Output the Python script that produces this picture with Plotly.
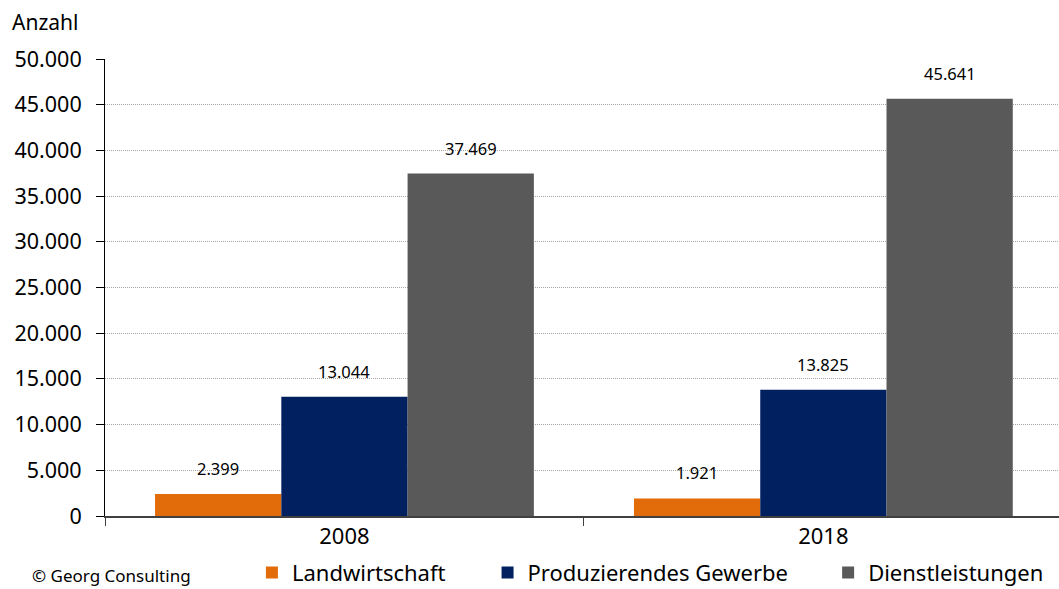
import plotly.graph_objects as go

# Beschäftigte nach Wirtschaftssektoren
years = ["2008", "2018"]
sectors = ["Landwirtschaft", "Produzierendes Gewerbe", "Dienstleistungen"]
landwirtschaft = [2399, 1921]
produzierendes = [13044, 13825]
dienstleistungen = [37469, 45641]
y_ticks = [0, 5000, 10000, 15000, 20000, 25000, 30000, 35000, 40000, 45000, 50000]
y_tick_labels = ["0", "5.000", "10.000", "15.000", "20.000", "25.000",
                 "30.000", "35.000", "40.000", "45.000", "50.000"]

colors = ["#E36C0A", "#002060", "#595959"]
series = [landwirtschaft, produzierendes, dienstleistungen]
FONT = "Noto Sans"


def de_format(v):
    return f"{v:,}".replace(",", ".")


fig = go.Figure()
legend_names = ["legend", "legend2", "legend3"]
for name, vals, col, lg in zip(sectors, series, colors, legend_names):
    fig.add_trace(go.Bar(
        x=years, y=vals, name=name, marker_color=col, marker_line_width=0,
        legend=lg, showlegend=True,
    ))

# Werte über den Balken
n = len(sectors)
for i, vals in enumerate(series):
    for j, v in enumerate(vals):
        fig.add_annotation(
            x=j, y=v, xref="x", yref="y", text=de_format(v), showarrow=False,
            xshift=(i - (n - 1) / 2) * 126.3, yshift=12, yanchor="bottom",
            font=dict(family=FONT, size=16.5, color="#000000"),
        )

fig.add_annotation(x=-0.1, y=1.0, xref="paper", yref="paper", yshift=37,
                   text="Anzahl", showarrow=False, xanchor="left", yanchor="middle",
                   font=dict(family=FONT, size=21, color="#000000"))
fig.add_annotation(x=-0.079, y=0, xref="paper", yref="paper", yshift=-59,
                   text="© Georg Consulting", showarrow=False, xanchor="left",
                   yanchor="middle", font=dict(family=FONT, size=17, color="#000000"))

legend_x = [0.154, 0.401, 0.758]
legend_style = dict(orientation="h", yanchor="middle", y=-0.124, xanchor="left",
                    font=dict(family=FONT, size=22, color="#000000"),
                    bgcolor="rgba(0,0,0,0)", itemwidth=30)

fig.update_layout(
    width=1059, height=589,
    margin=dict(l=105, r=0, t=59, b=73, autoexpand=False),
    paper_bgcolor="white", plot_bgcolor="white",
    barmode="group", bargap=0.209, bargroupgap=0,
    showlegend=True,
    font=dict(family=FONT, color="#000000"),
    legend=dict(x=legend_x[0], **legend_style),
    legend2=dict(x=legend_x[1], **legend_style),
    legend3=dict(x=legend_x[2], **legend_style),
    xaxis=dict(
        range=[-0.5, 1.492],
        showline=True, linecolor="#404040", linewidth=1.5,
        ticks="outside", tickson="boundaries", ticklen=8, tickcolor="#404040",
        tickfont=dict(family=FONT, size=22, color="#000000"),
        showgrid=False,
    ),
    yaxis=dict(
        range=[0, 50000], tickvals=y_ticks, ticktext=y_tick_labels,
        showline=True, linecolor="#000000", linewidth=1,
        ticks="outside", ticklen=8, tickcolor="#000000",
        ticklabelstandoff=10,
        tickfont=dict(family=FONT, size=21.5, color="#000000"),
        showgrid=True, gridcolor="#A6A6A6", griddash="1px,1px", gridwidth=1,
        zeroline=False,
    ),
)

fig.write_html("out.html")
